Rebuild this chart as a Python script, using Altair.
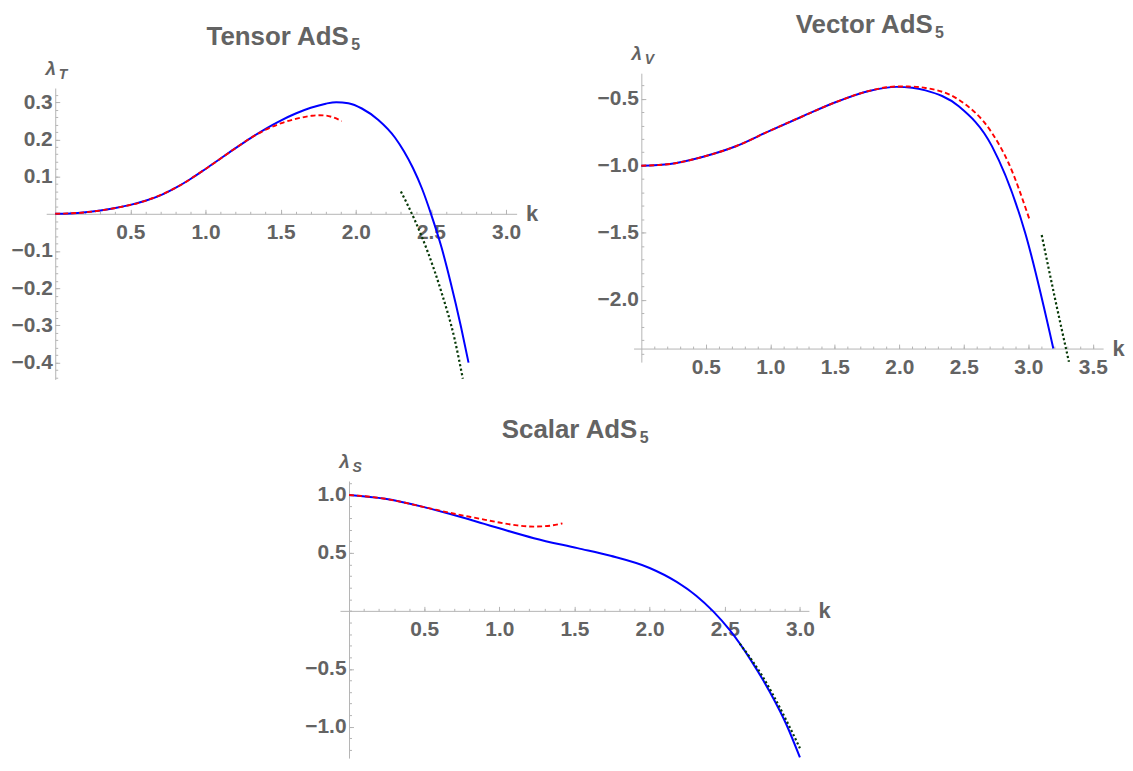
import altair as alt
import pandas as pd

# ---------------- data ----------------
# Tensor AdS5
t_blue_k = [0, 0.1, 0.2, 0.3, 0.4, 0.5, 0.6, 0.7, 0.8, 0.9, 1.0, 1.1, 1.2, 1.3, 1.4, 1.5, 1.6,
            1.7, 1.8, 1.87, 1.95, 2.04, 2.15, 2.26, 2.32, 2.38, 2.44, 2.50, 2.57, 2.63, 2.70,
            2.75]
t_blue_v = [0, 0.001, 0.004, 0.009, 0.0155, 0.024, 0.035, 0.0495, 0.0695, 0.0935, 0.1205,
            0.1485, 0.1765, 0.2035, 0.2285, 0.2505, 0.2695, 0.285, 0.296, 0.300, 0.297, 0.283,
            0.252, 0.205, 0.168, 0.123, 0.068, 0.0, -0.09, -0.183, -0.304, -0.40]
t_red_k = [0, 0.2, 0.4, 0.6, 0.8, 1.0, 1.2, 1.3, 1.4, 1.5, 1.6, 1.7, 1.75, 1.8, 1.85, 1.906]
t_red_v = [0, 0.004, 0.0155, 0.035, 0.0695, 0.1205, 0.1765, 0.2035, 0.226, 0.243, 0.255,
           0.263, 0.265, 0.264, 0.259, 0.249]
t_green_k = [2.30, 2.39, 2.48, 2.57, 2.657, 2.712]
t_green_v = [0.060, -0.015, -0.104, -0.211, -0.336, -0.443]

# Vector AdS5
v_blue_k = [0, 0.223, 0.48, 0.738, 0.995, 1.252, 1.51, 1.766, 1.98, 2.1, 2.203, 2.461, 2.718,
            2.975, 3.194]
v_blue_v = [-1.0, -0.987, -0.933, -0.853, -0.74, -0.631, -0.525, -0.443, -0.412, -0.418,
            -0.438, -0.557, -0.854, -1.498, -2.363]
v_red_k = [0, 0.223, 0.48, 0.738, 0.995, 1.252, 1.51, 1.766, 1.98, 2.1, 2.203, 2.461, 2.718,
           2.846, 3.009]
v_red_v = [-1.0, -0.987, -0.933, -0.853, -0.74, -0.631, -0.525, -0.442, -0.409, -0.41,
           -0.42, -0.508, -0.755, -0.978, -1.40]
v_green_k = [3.104, 3.207, 3.315]
v_green_v = [-1.517, -1.99, -2.463]

# Scalar AdS5
s_blue_k = [0, 0.24, 0.5, 0.68, 0.9, 1.0, 1.23, 1.52, 1.74, 2.0, 2.18, 2.31, 2.42, 2.535,
            2.666, 2.80, 2.91, 3.0]
s_blue_v = [1.0, 0.967, 0.895, 0.833, 0.750, 0.712, 0.627, 0.541, 0.475, 0.37, 0.25, 0.131,
            0.0, -0.169, -0.41, -0.70, -0.98, -1.264]
s_red_k = [0, 0.24, 0.5, 0.7, 0.85, 1.0, 1.12, 1.23, 1.34, 1.42]
s_red_v = [1.0, 0.967, 0.895, 0.838, 0.80, 0.762, 0.737, 0.727, 0.735, 0.755]
s_green_k = [2.60, 2.753, 2.886, 3.0]
s_green_v = [-0.283, -0.569, -0.884, -1.185]

# tick values / labels
t_x_major = [0.5, 1.0, 1.5, 2.0, 2.5, 3.0]
t_x_minor = [round(0.1 * i, 2) for i in range(1, 31)]
t_y_major = [-0.4, -0.3, -0.2, -0.1, 0.1, 0.2, 0.3]
t_y_minor = [round(0.02 * i, 2) for i in range(-22, 17)]

v_x_major = [0.5, 1.0, 1.5, 2.0, 2.5, 3.0, 3.5]
v_x_minor = [round(0.1 * i, 2) for i in range(1, 36)]
v_y_major = [-2.0, -1.5, -1.0, -0.5]
v_y_minor = [round(0.1 * i, 2) for i in range(-24, -3)]

s_x_major = [0.5, 1.0, 1.5, 2.0, 2.5, 3.0]
s_x_minor = [round(0.1 * i, 2) for i in range(1, 31)]
s_y_major = [-1.0, -0.5, 0.5, 1.0]
s_y_minor = [round(0.1 * i, 2) for i in range(-12, 12)]

# ---------------- styling / layout ----------------
FONT = "Liberation Sans"
TXT = "#636363"
AXC = "#b4b4b4"
MINUS = "\u2212"
W, H = 1062, 689


def frame(k, v):
    return pd.DataFrame({"k": k, "v": v})


def panel(blue, red, green, xdom, ydom, xr, yr, xcross, xmaj, xmin_, ymaj, ymin_,
          title_main, title_right, title_dy, lam_sub):
    # xr = [left, right] and yr = [top, bottom] pixel extents of this panel's plot area
    pw = xr[1] - xr[0]
    ph = yr[1] - yr[0]
    xpos = xr[0] + pw * (0 - xdom[0]) / (xdom[1] - xdom[0])
    ypos = yr[0] + ph * (ydom[1] - xcross) / (ydom[1] - ydom[0])
    xs = alt.Scale(domain=xdom, range=[xr[0], xr[1]], nice=False, zero=False)
    ys = alt.Scale(domain=ydom, range=[yr[1], yr[0]], nice=False, zero=False)

    x_lab = alt.Axis(orient="bottom", offset=ypos - H, values=xmaj, format=".1f",
                     ticks=False, tickSize=0, domain=True, domainColor=AXC, domainWidth=1,
                     labelFont=FONT, labelFontSize=21, labelFontWeight="bold",
                     labelColor=TXT, labelPadding=8, labelFlush=False, labelOverlap=False,
                     grid=False, title="k", titleX=xr[1] + 9, titleY=0, titleAlign="left",
                     titleBaseline="middle", titleFont=FONT, titleFontSize=22,
                     titleFontWeight="bold", titleColor=TXT)
    y_lab = alt.Axis(orient="left", offset=-xpos, values=ymaj,
                     labelExpr="replace(format(datum.value, '.1f'), '-', '" + MINUS + "')",
                     ticks=False, tickSize=0, domain=True, domainColor=AXC, domainWidth=1,
                     labelFont=FONT, labelFontSize=21, labelFontWeight="bold",
                     labelColor=TXT, labelPadding=3, labelFlush=False, labelOverlap=False,
                     grid=False, title="λ", titleX=-5, titleY=yr[0] - 13.5, titleAngle=0,
                     titleAlign="center", titleBaseline="alphabetic", titleFont=FONT,
                     titleFontSize=19, titleFontStyle="italic", titleFontWeight="bold",
                     titleColor=TXT)
    x_maj = alt.Axis(orient="top", offset=-ypos, values=xmaj, labels=False, domain=False,
                     tickSize=4.5, tickColor=AXC, tickWidth=1, grid=False, title="")
    y_maj = alt.Axis(orient="right", offset=xpos - W, values=ymaj, labels=False,
                     domain=False, tickSize=4.5, tickColor=AXC, tickWidth=1, grid=False,
                     title="")
    x_mn = alt.Axis(orient="top", offset=-ypos, values=xmin_, labels=False, domain=False,
                    tickSize=2.5, tickColor=AXC, tickWidth=1, grid=False, title="")
    y_mn = alt.Axis(orient="right", offset=xpos - W, values=ymin_, labels=False,
                    domain=False, tickSize=2.5, tickColor=AXC, tickWidth=1, grid=False,
                    title="")
    x_title = alt.Axis(orient="top", offset=0, labels=False, ticks=False, domain=False,
                       grid=False, title=title_main, titleX=xr[0] + title_right,
                       titleY=yr[0] - title_dy, titleAlign="right",
                       titleBaseline="alphabetic", titleFont=FONT, titleFontSize=26,
                       titleFontWeight="bold", titleColor=TXT)
    x_sub = alt.Axis(orient="top", offset=0, labels=False, ticks=False, domain=False,
                     grid=False, title="5", titleX=xr[0] + title_right + 2.4,
                     titleY=yr[0] - title_dy + 5, titleAlign="left",
                     titleBaseline="alphabetic", titleFont=FONT, titleFontSize=16,
                     titleFontWeight="bold", titleColor=TXT)
    y_sub = alt.Axis(orient="left", offset=-xpos, labels=False, ticks=False, domain=False,
                     grid=False, title=lam_sub, titleX=3, titleY=yr[0] - 9.5, titleAngle=0,
                     titleAlign="left", titleBaseline="alphabetic", titleFont=FONT,
                     titleFontSize=14, titleFontStyle="italic", titleFontWeight="bold",
                     titleColor=TXT)

    base_blue = alt.Chart(blue)
    l_blue = base_blue.mark_line(color="#0000ff", strokeWidth=2,
                                 interpolate="monotone").encode(
        x=alt.X("k:Q", scale=xs, axis=x_lab), y=alt.Y("v:Q", scale=ys, axis=y_lab))
    l_red = alt.Chart(red).mark_line(color="#ff0000", strokeWidth=1.9, strokeDash=[5, 3],
                                     interpolate="monotone").encode(
        x=alt.X("k:Q", scale=xs, axis=x_maj), y=alt.Y("v:Q", scale=ys, axis=y_maj))
    l_green = alt.Chart(green).mark_line(color="#063806", strokeWidth=2.2,
                                         strokeDash=[2.2, 2.4],
                                         interpolate="monotone").encode(
        x=alt.X("k:Q", scale=xs, axis=x_mn), y=alt.Y("v:Q", scale=ys, axis=y_mn))
    l_t1 = base_blue.mark_line(opacity=0).encode(
        x=alt.X("k:Q", scale=xs, axis=x_title), y=alt.Y("v:Q", scale=ys, axis=y_sub))
    l_t2 = base_blue.mark_line(opacity=0).encode(
        x=alt.X("k:Q", scale=xs, axis=x_sub), y=alt.Y("v:Q", scale=ys, axis=None))
    return [l_blue, l_red, l_green, l_t1, l_t2]


layers = []
layers += panel(frame(t_blue_k, t_blue_v), frame(t_red_k, t_red_v),
                frame(t_green_k, t_green_v), [-0.06, 3.07], [-0.445, 0.338],
                [0, 472.7], [14.9, 307.7], 0.0,
                t_x_major, t_x_minor, t_y_major, t_y_minor, "Tensor AdS", 303.5, 44, "T")
layers += panel(frame(v_blue_k, v_blue_v), frame(v_red_k, v_red_v),
                frame(v_green_k, v_green_v), [-0.06, 3.58], [-2.465, -0.31],
                [590.2, 1062], [0, 290.3], -2.364,
                v_x_major, v_x_minor, v_y_major, v_y_minor, "Vector AdS", 300.1, 40.5, "V")
layers += panel(frame(s_blue_k, s_blue_v), frame(s_red_k, s_red_v),
                frame(s_green_k, s_green_v), [-0.06, 3.06], [-1.27, 1.12],
                [295.2, 766.4], [409.8, 688.2], 0.0,
                s_x_major, s_x_minor, s_y_major, s_y_minor, "Scalar AdS", 298.3, 44, "S")

chart = alt.layer(*layers).resolve_scale(x="independent", y="independent").resolve_axis(
    x="independent", y="independent"
).properties(
    width=W, height=H,
    autosize=alt.AutoSizeParams(type="none"),
    padding={"left": 38.4, "top": 63.7, "right": 22, "bottom": 0}
).configure_view(strokeWidth=0).configure_axis(grid=False)

chart.save("out.html", embed_options={"renderer": "svg", "actions": False})
